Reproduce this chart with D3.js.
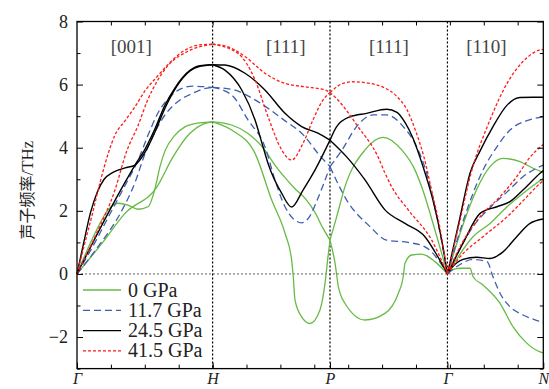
<!DOCTYPE html>
<html>
<head>
<meta charset="utf-8">
<script src="https://cdn.jsdelivr.net/npm/d3@7"></script>
<style>
  body { margin: 0; background: #fff; }
  svg { display: block; }
</style>
</head>
<body>
<div id="chart"></div>
<script>
// k-path, BCC lattice: Γ - H - P - Γ - N (path length in 2π/a)
const kPoints = [0, 1, 1.866, 2.732, 3.439]
const kLabels = ["Γ", "H", "P", "Γ", "N"]
const dirLabels = ["[001]", "[111]", "[111]", "[110]"]
const dirK = [0.40, 1.54, 2.30, 3.02]

const yTicks = [-2, 0, 2, 4, 6, 8]
const pressures = ["0 GPa", "11.7 GPa", "24.5 GPa", "41.5 GPa"]

// phonon branches, [k, THz]
const green0 = [
  [[0,0],[0.133,1.29],[0.229,2.03],[0.302,2.24],[0.376,2.18],[0.450,2.05],[0.524,2.13],[0.575,2.7],[0.612,3.4],[0.649,3.9],[0.723,4.4],[0.796,4.66],[0.907,4.79],[1,4.82]],
  [[0,0],[0.184,0.97],[0.354,1.92],[0.590,2.76],[0.708,3.71],[0.833,4.46],[0.929,4.75],[1,4.82]],
  [[1,4.82],[1.141,4.72],[1.261,4.45],[1.372,4.0],[1.46,3.45],[1.534,3.05],[1.608,2.7],[1.681,2.4],[1.755,1.95],[1.814,1.45],[1.866,1.07]],
  [[1,4.82],[1.141,4.56],[1.313,3.82],[1.436,2.34],[1.534,1.29],[1.583,0.44],[1.595,-0.09],[1.608,-0.83],[1.657,-1.36],[1.718,-1.57],[1.792,-1.14],[1.829,-0.3],[1.851,0.54],[1.866,1.07]],
  [[1.866,1.07],[1.915,1.81],[1.976,2.76],[2.124,3.93],[2.257,4.33],[2.395,3.93],[2.493,3.29],[2.542,2.76],[2.640,1.39],[2.732,0]],
  [[1.866,1.07],[1.903,0.34],[1.928,-0.41],[1.976,-0.93],[2.124,-1.46],[2.271,-1.25],[2.370,-0.61],[2.406,-0.09],[2.419,0.34],[2.468,0.6],[2.542,0.63],[2.640,0.39],[2.732,0]],
  [[2.732,0],[2.85,1.6],[2.95,2.7],[3.046,3.4],[3.142,3.66],[3.267,3.56],[3.363,3.35],[3.439,3.22]],
  [[2.732,0],[2.921,1.18],[3.046,1.6],[3.172,2.13],[3.289,2.55],[3.439,3.03]],
  [[2.732,0],[2.751,0.1],[2.825,0.18],[2.899,0.18],[2.921,-0.09],[2.994,-0.35],[3.12,-0.93],[3.215,-1.67],[3.319,-2.2],[3.415,-2.47],[3.439,-2.5]]
]

const blue117 = [
  [[0,0],[0.133,1.0],[0.243,1.9],[0.354,2.8],[0.450,3.6],[0.524,4.4],[0.597,5.1],[0.671,5.55],[0.774,5.88],[0.855,5.95],[1,5.91]],
  [[0,0],[0.170,0.95],[0.317,1.9],[0.428,2.9],[0.501,3.8],[0.553,4.3],[0.627,4.9],[0.701,5.3],[0.760,5.51],[0.855,5.73],[0.959,5.89],[1,5.91]],
  [[1,5.91],[1.141,5.85],[1.335,5.46],[1.51,4.93],[1.681,4.35],[1.777,3.82],[1.866,3.4]],
  [[1,5.91],[1.141,5.67],[1.261,4.88],[1.386,4.03],[1.46,2.98],[1.534,2.13],[1.657,1.62],[1.72,1.85],[1.777,2.4],[1.866,3.4]],
  [[1.866,3.4],[1.955,3.93],[2.062,4.67],[2.183,5.04],[2.284,5.04],[2.406,4.67],[2.505,4.03],[2.579,3.19],[2.655,1.8],[2.732,0]],
  [[1.866,3.4],[1.989,2.34],[2.161,1.5],[2.284,1.07],[2.441,1.0],[2.566,0.86],[2.655,0.5],[2.732,0]],
  [[2.732,0],[2.85,1.7],[2.994,3.29],[3.097,4.03],[3.193,4.56],[3.319,4.86],[3.439,4.97]],
  [[2.732,0],[2.921,1.5],[3.046,2.1],[3.172,2.6],[3.289,3.08],[3.439,3.45]],
  [[2.732,0],[2.825,0.3],[2.921,0.46],[3.024,0.39],[3.068,-0.09],[3.12,-0.61],[3.193,-1.04],[3.289,-1.3],[3.415,-1.51],[3.439,-1.55]]
]

const black245 = [
  [[0,0],[0.05,1.0],[0.1,1.95],[0.15,2.6],[0.2,3.0],[0.265,3.22],[0.354,3.36],[0.428,3.45],[0.501,3.85],[0.575,4.5],[0.649,5.25],[0.737,5.95],[0.833,6.43],[0.907,6.58],[1,6.63]],
  [[0,0],[0.229,1.92],[0.354,2.9],[0.428,3.45],[0.501,3.95],[0.575,4.6],[0.649,5.35],[0.723,5.9],[0.833,6.45],[0.907,6.6],[1,6.63]],
  [[1,6.63],[1.091,6.62],[1.239,6.36],[1.386,5.83],[1.534,5.09],[1.657,4.67],[1.777,4.46],[1.866,4.24]],
  [[1,6.63],[1.091,6.46],[1.215,5.83],[1.313,4.88],[1.372,4.03],[1.409,3.5],[1.51,2.55],[1.583,2.12],[1.667,2.66],[1.755,3.29],[1.866,4.24]],
  [[1.866,4.24],[1.915,4.67],[2.013,4.98],[2.136,5.09],[2.284,5.22],[2.36,5.12],[2.419,4.8],[2.478,4.3],[2.552,3.4],[2.625,2.34],[2.684,1.2],[2.732,0]],
  [[1.866,4.24],[1.989,3.71],[2.124,2.98],[2.271,2.03],[2.419,1.6],[2.566,1.18],[2.662,0.54],[2.732,0]],
  [[2.732,0],[2.825,1.8],[2.899,3.2],[2.973,3.9],[3.068,4.67],[3.172,5.35],[3.267,5.59],[3.363,5.6],[3.439,5.6]],
  [[2.732,0],[2.85,1.0],[2.973,1.92],[3.097,2.13],[3.193,2.29],[3.289,2.66],[3.415,3.19],[3.439,3.28]],
  [[2.732,0],[2.751,0.12],[2.847,0.46],[2.948,0.53],[3.046,0.49],[3.142,0.7],[3.243,1.18],[3.341,1.6],[3.439,1.74]]
]

const red415 = [
  [[0,0],[0.059,1.0],[0.108,1.81],[0.170,2.9],[0.229,3.8],[0.280,4.4],[0.354,4.85],[0.428,5.3],[0.501,5.8],[0.590,6.25],[0.686,6.7],[0.760,6.99],[0.848,7.2],[0.907,7.26],[1,7.28]],
  [[0,0],[0.133,1.18],[0.280,2.66],[0.367,3.9],[0.45,4.7],[0.52,5.5],[0.59,6.1],[0.664,6.57],[0.811,7.04],[1,7.28]],
  [[1,7.28],[1.091,7.23],[1.239,6.89],[1.386,6.36],[1.534,6.04],[1.681,5.93],[1.829,5.83],[1.866,5.75]],
  [[1,7.28],[1.187,6.99],[1.313,6.15],[1.409,4.98],[1.51,3.93],[1.583,3.61],[1.667,4.14],[1.740,4.88],[1.814,5.51],[1.866,5.75]],
  [[1.866,5.75],[1.962,6.04],[2.035,6.09],[2.146,6.05],[2.257,5.92],[2.353,5.65],[2.434,5.2],[2.5,4.5],[2.559,3.7],[2.618,2.6],[2.677,1.45],[2.732,0]],
  [[1.866,5.75],[1.925,5.51],[2.072,4.67],[2.22,3.71],[2.271,3.2],[2.321,2.76],[2.443,2.03],[2.616,1.07],[2.732,0]],
  [[2.732,0],[2.825,1.7],[2.899,3.08],[3.046,4.88],[3.172,6.04],[3.289,6.73],[3.415,7.1],[3.439,7.12]],
  [[2.732,0],[2.825,0.86],[2.973,1.81],[3.12,2.45],[3.243,3.08],[3.341,3.7],[3.439,4.1]],
  [[2.732,0],[2.825,0.54],[2.994,1.18],[3.172,1.81],[3.319,2.45],[3.415,2.87],[3.439,2.95]]
]

const seriesData = [green0, blue117, black245, red415]
const styles = [
  {color: "#66bb44", dash: null, width: 1.3},
  {color: "#3d5fae", dash: "7,4", width: 1.3},
  {color: "#000000", dash: null, width: 1.4},
  {color: "#ff1a1a", dash: "3,2", width: 1.3}
]

// layout
const width = 549, height = 389
const plot = {left: 77, right: 543.3, top: 21.5, bottom: 368.6}

const svg = d3.select("#chart").append("svg")
    .attr("width", width)
    .attr("height", height)

const x = d3.scaleLinear()
    .domain([kPoints[0], kPoints[kPoints.length - 1]])
    .range([plot.left, plot.right])
const y = d3.scaleLinear()
    .domain([-3, 8])
    .range([plot.bottom, plot.top])

const serif = "'Liberation Serif', 'DejaVu Serif', serif"

// zero line
svg.append("line")
    .attr("x1", plot.left).attr("x2", plot.right)
    .attr("y1", y(0)).attr("y2", y(0))
    .attr("stroke", "#666").attr("stroke-width", 1)
    .attr("stroke-dasharray", "2,2")

// high-symmetry dotted lines
svg.append("g").selectAll("line")
  .data(kPoints.slice(1, -1))
  .join("line")
    .attr("x1", d => x(d)).attr("x2", d => x(d))
    .attr("y1", plot.top).attr("y2", plot.bottom)
    .attr("stroke", "#000").attr("stroke-width", 1.2)
    .attr("stroke-dasharray", "2,2")

// phonon curves
const line = d3.line()
    .x(d => x(d[0]))
    .y(d => y(d[1]))
    .curve(d3.curveMonotoneX)

seriesData.forEach((branches, i) => {
  svg.append("g").selectAll("path")
    .data(branches)
    .join("path")
      .attr("d", line)
      .attr("fill", "none")
      .attr("stroke", styles[i].color)
      .attr("stroke-width", styles[i].width)
      .attr("stroke-dasharray", styles[i].dash)
})

// axes (ticks inward)
const minorX = d3.range(0.25, kPoints[4], 0.25)
const fmtY = d => d < 0 ? "\u2212" + Math.abs(d) : d

const leftAxis = svg.append("g")
    .attr("transform", `translate(${plot.left},0)`)
    .call(d3.axisLeft(y).tickValues(yTicks).tickSize(-6).tickPadding(9).tickFormat(fmtY))
svg.append("g")
    .attr("transform", `translate(${plot.left},0)`)
    .call(d3.axisLeft(y).tickValues(d3.range(-3, 8, 2)).tickSize(-3.5).tickFormat(""))
svg.append("g")
    .attr("transform", `translate(${plot.right},0)`)
    .call(d3.axisRight(y).tickValues(yTicks).tickSize(-6).tickFormat(""))
svg.append("g")
    .attr("transform", `translate(${plot.right},0)`)
    .call(d3.axisRight(y).tickValues(d3.range(-3, 8, 2)).tickSize(-3.5).tickFormat(""))

const bottomAxis = svg.append("g")
    .attr("transform", `translate(0,${plot.bottom})`)
    .call(d3.axisBottom(x).tickValues(kPoints).tickSize(-6).tickPadding(4)
      .tickFormat((d, i) => kLabels[i]))
svg.append("g")
    .attr("transform", `translate(0,${plot.bottom})`)
    .call(d3.axisBottom(x).tickValues(minorX).tickSize(-4).tickFormat(""))
svg.append("g")
    .attr("transform", `translate(0,${plot.top})`)
    .call(d3.axisTop(x).tickValues(minorX).tickSize(-4).tickFormat(""))

svg.selectAll(".domain").remove()
svg.selectAll(".tick line").attr("stroke", "#000").attr("stroke-width", 1)

leftAxis.selectAll("text")
    .attr("font-family", serif).attr("font-size", 18).attr("fill", "#222")
bottomAxis.selectAll("text")
    .attr("font-family", serif).attr("font-size", 16)
    .attr("font-style", "italic").attr("fill", "#222")

// frame
svg.append("rect")
    .attr("x", plot.left).attr("y", plot.top)
    .attr("width", plot.right - plot.left)
    .attr("height", plot.bottom - plot.top)
    .attr("fill", "none").attr("stroke", "#000").attr("stroke-width", 1.3)

// direction labels
svg.append("g").selectAll("text")
  .data(dirLabels)
  .join("text")
    .attr("x", (d, i) => x(dirK[i]))
    .attr("y", 53)
    .attr("text-anchor", "middle")
    .attr("font-family", serif).attr("font-size", 19)
    .attr("fill", "#444")
    .text(d => d)

// y title
svg.append("text")
    .attr("transform", `translate(33,${(plot.top + plot.bottom) / 2 - 5}) rotate(-90)`)
    .attr("text-anchor", "middle")
    .attr("font-size", 16)
    .attr("fill", "#222")
    .call(t => {
      t.append("tspan").attr("font-family", "'Noto Sans CJK SC', sans-serif").text("声子频率")
      t.append("tspan").attr("font-family", serif).attr("font-size", 17).text("/THz")
    })

// legend
const legend = svg.append("g")
    .selectAll("g")
    .data(pressures)
    .join("g")
      .attr("transform", (d, i) => `translate(83,${290 + i * 20.3})`)

legend.append("line")
    .attr("x1", 0).attr("x2", 38)
    .attr("stroke", (d, i) => styles[i].color)
    .attr("stroke-width", (d, i) => styles[i].width)
    .attr("stroke-dasharray", (d, i) => styles[i].dash)

legend.append("text")
    .attr("x", 45).attr("y", 6.5)
    .attr("font-family", serif).attr("font-size", 20)
    .attr("fill", "#222")
    .text(d => d)
</script>
</body>
</html>
